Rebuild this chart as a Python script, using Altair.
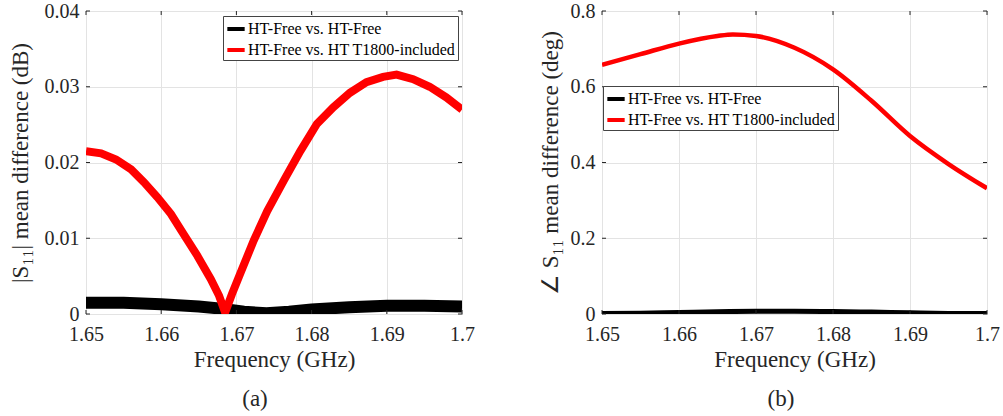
import altair as alt
import pandas as pd

# ---- data -----------------------------------------------------------------
SERIES = ["HT-Free vs. HT-Free", "HT-Free vs. HT T1800-included"]

# (a) |S11| mean difference (dB)
freq_a_ref = [1.650, 1.655, 1.660, 1.665, 1.668, 1.671, 1.674, 1.677,
              1.680, 1.685, 1.690, 1.695, 1.700]
mag_ref = [0.0015, 0.0015, 0.0013, 0.0010, 0.0007, 0.0003, 0.0001, 0.0003,
           0.0006, 0.0009, 0.0011, 0.0011, 0.0010]

freq_a_t1800 = [1.6500, 1.6520, 1.6540, 1.6560, 1.6577, 1.6595, 1.6613,
                1.6630, 1.6648, 1.6666, 1.6677, 1.6685, 1.6694, 1.6705,
                1.6723, 1.6741, 1.6763, 1.6785, 1.6807, 1.6829, 1.6851,
                1.6873, 1.6895, 1.6913, 1.6935, 1.6957, 1.6979, 1.7000]
mag_t1800 = [0.0215, 0.0212, 0.0204, 0.0191, 0.0174, 0.0154, 0.0132,
             0.0105, 0.0077, 0.0046, 0.0024, 0.0002, 0.0026, 0.0053,
             0.0097, 0.0136, 0.0176, 0.0215, 0.0251, 0.0273, 0.0292,
             0.0306, 0.0313, 0.0316, 0.0310, 0.0300, 0.0286, 0.0270]

# (b) phase of S11 mean difference (deg)
freq_b_ref = [1.650, 1.655, 1.660, 1.665, 1.670, 1.675, 1.680, 1.685,
              1.690, 1.695, 1.700]
phase_ref = [0.001, 0.002, 0.004, 0.006, 0.007, 0.007, 0.0065, 0.005,
             0.003, 0.0015, 0.001]

freq_b_t1800 = [1.650, 1.655, 1.660, 1.665, 1.667, 1.670, 1.675, 1.680,
                1.685, 1.690, 1.695, 1.700]
phase_t1800 = [0.658, 0.686, 0.714, 0.734, 0.738, 0.734, 0.703, 0.646,
               0.563, 0.470, 0.396, 0.332]

x_ticks = [1.65, 1.66, 1.67, 1.68, 1.69, 1.70]
y_ticks_a = [0.0, 0.01, 0.02, 0.03, 0.04]
y_ticks_b = [0.0, 0.2, 0.4, 0.6, 0.8]

SERIF = "Liberation Serif"
INK = "#262626"

AXIS_STYLE = dict(
    labelFont=SERIF, labelFontSize=20, labelColor=INK, labelFlush=False,
    labelOverlap=False, titleFont=SERIF, titleFontSize=23,
    titleFontWeight="normal", titleColor=INK, domain=False, ticks=False,
    grid=True, gridColor="#e3e3e3", gridWidth=1,
)


def series_frame(freq, val, name):
    return pd.DataFrame({"freq": freq, "val": val, "series": name})


def panel(ref, t1800, y_max, y_ticks, y_fmt, y_title, title_x, width,
          legend_x, legend_y, caption, caption_x, widths, interp):
    height = 303
    xs = alt.Scale(domain=[1.65, 1.70], nice=False, zero=False)
    ys = alt.Scale(domain=[0, y_max], nice=False, zero=False)
    x_axis = alt.Axis(values=x_ticks, format=".2~f", title="Frequency (GHz)",
                      labelPadding=10, titlePadding=4, **AXIS_STYLE)
    y_axis = alt.Axis(values=y_ticks, format=y_fmt, title=y_title,
                      labelPadding=7, titleX=title_x, titleY=height / 2,
                      titleAngle=270, titleBaseline="middle",
                      titleAlign="center", **AXIS_STYLE)
    color = alt.Color(
        "series:N",
        scale=alt.Scale(domain=SERIES, range=["black", "#ff0000"]),
        legend=alt.Legend(
            title=None, orient="none", legendX=legend_x, legendY=legend_y,
            symbolType="stroke", symbolSize=300, symbolStrokeWidth=4,
            labelFont=SERIF, labelFontSize=16, labelColor="black",
            labelLimit=0, labelOffset=1, strokeColor="#444444",
            fillColor="white", padding=2, rowPadding=2,
        ),
    )
    x_enc = alt.X("freq:Q", scale=xs, axis=x_axis)
    y_enc = alt.Y("val:Q", scale=ys, axis=y_axis)

    lines = []
    for df, w in zip([ref, t1800], widths):
        lines.append(
            alt.Chart(df).mark_line(clip=True, strokeWidth=w,
                                    interpolate=interp)
            .encode(x=x_enc, y=y_enc, color=color)
        )

    # inward tick marks on all four sides of the box
    xt = pd.DataFrame({"freq": x_ticks})
    yt = pd.DataFrame({"val": y_ticks})
    tick_style = dict(color=INK, strokeWidth=1)
    ticks = [
        alt.Chart(xt).mark_rule(**tick_style).encode(
            x=x_enc, y=alt.value(height), y2=alt.value(height - 4)),
        alt.Chart(xt).mark_rule(**tick_style).encode(
            x=x_enc, y=alt.value(0), y2=alt.value(4)),
        alt.Chart(yt).mark_rule(**tick_style).encode(
            y=y_enc, x=alt.value(0), x2=alt.value(4)),
        alt.Chart(yt).mark_rule(**tick_style).encode(
            y=y_enc, x=alt.value(width), x2=alt.value(width - 4)),
    ]

    cap = alt.Chart(pd.DataFrame({"c": [caption]})).mark_text(
        font=SERIF, fontSize=23, color=INK, baseline="middle", align="center"
    ).encode(text="c:N", x=alt.value(caption_x), y=alt.value(388))

    return alt.layer(*lines, *ticks, cap).properties(width=width,
                                                      height=height)


left = panel(series_frame(freq_a_ref, mag_ref, SERIES[0]),
             series_frame(freq_a_t1800, mag_t1800, SERIES[1]),
             0.04, y_ticks_a, ".2~f", "|S₁₁| mean difference (dB)", -66, 376,
             137, 5, "(a)", 169, [12, 8], "linear")

right = panel(series_frame(freq_b_ref, phase_ref, SERIES[0]),
              series_frame(freq_b_t1800, phase_t1800, SERIES[1]),
              0.8, y_ticks_b, ".1~f", "∠ S₁₁ mean difference (deg)", -52, 385,
              1, 75, "(b)", 179, [5, 4.5], "monotone")

chart = (
    alt.hconcat(left, right, spacing=140, bounds="flush")
    .resolve_scale(color="independent")
    .properties(padding={"left": 8, "top": 0, "right": 0, "bottom": 0},
                background="white")
    .configure_view(stroke=INK, strokeWidth=1)
    .configure_axis(labelFont=SERIF, titleFont=SERIF)
    .configure_text(font=SERIF)
)

chart.save("out.html", embed_options={"renderer": "svg", "actions": False})
